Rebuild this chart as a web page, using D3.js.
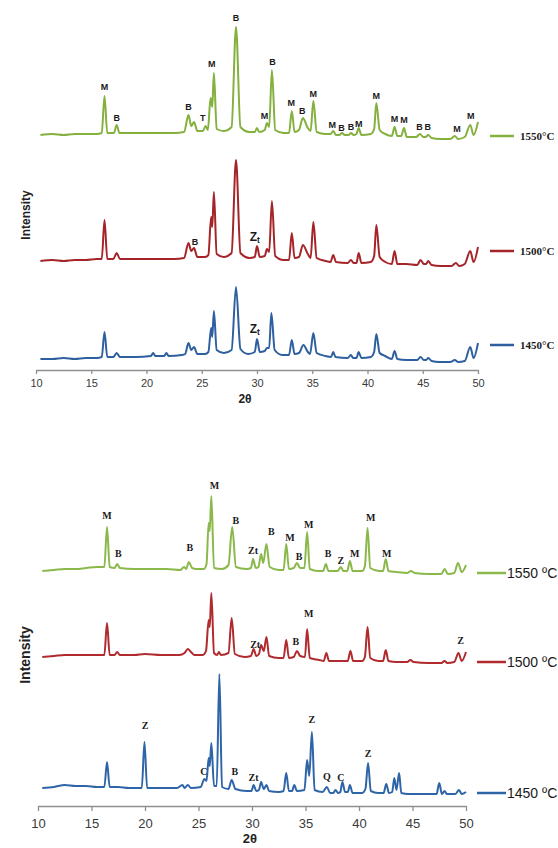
<!DOCTYPE html>
<html>
<head>
<meta charset="utf-8">
<script src="https://cdn.jsdelivr.net/npm/d3@7"></script>
<style>
  body { margin: 0; background: #fff; }
  svg { display: block; }
</style>
</head>
<body>
<div id="chart"></div>
<script>
// XRD patterns, 2θ vs intensity (a.u.), two stacked panels

const xTicks = [10, 15, 20, 25, 30, 35, 40, 45, 50]
const tempsTop = ["1550°C", "1500°C", "1450°C"]
const tempsBot = ["1550 ºC", "1500 ºC", "1450 ºC"]

// top panel traces: [2θ, intensity]
const topGreen = [
  [10.4,12],[11.5,13],[12.5,12],[13.5,13],[14.5,13],[15.5,13],[15.95,14],[16.2,51],[16.45,14],[17.05,14],[17.3,22],[17.55,14],
  [19,14],[21,14],[22.5,14],[23.4,15],[23.8,32],[24.05,21],[24.3,25],[24.6,16],[25.1,16],[25.35,21],[25.55,17],[25.8,49],
  [25.95,40],[26.1,74],[26.35,18],[27,16],[27.7,20],[28.1,120],[28.5,20],[29.3,15],[29.8,15],[30,19],[30.2,15],[30.7,17],
  [30.9,24],[31.1,20],[31.35,77],[31.65,17],[32.4,14],[32.9,14],[33.15,36],[33.4,15],[33.8,17],[34.15,29],[34.6,19],[34.85,16],
  [35.1,46],[35.4,15],[36.2,13],[36.65,13],[36.9,16],[37.15,12],[37.45,12],[37.7,14],[37.95,12],[38.3,12],[38.5,14],[38.75,12],
  [39,13],[39.2,19],[39.45,12],[40.3,13],[40.6,18],[40.8,44],[41.1,17],[41.6,13],[42.2,11],[42.45,20],[42.7,11],[43.05,11],
  [43.3,19],[43.55,10],[44.4,10],[44.75,13],[45.05,10],[45.25,10],[45.5,12],[45.8,9],[46.6,8],[47.5,8],[47.9,11],[48.2,8],
  [48.8,10],[49.3,22],[49.6,12],[50,25]
]
const topRed = [
  [10.4,11],[11.5,12],[12.5,11],[13.5,12],[14.5,12],[15.5,13],[15.95,13],[16.2,52],[16.45,13],[17,13],[17.3,19],[17.6,13],
  [19,13],[21,13],[22.5,13],[23.4,14],[23.8,29],[24.05,21],[24.3,24],[24.6,15],[25.3,15],[25.6,17],[25.85,55],[25.95,45],
  [26.1,80],[26.35,18],[27,15],[27.7,19],[28.1,112],[28.5,19],[29.3,14],[29.8,15],[30,26],[30.25,15],[30.7,16],[30.9,23],
  [31.1,20],[31.35,71],[31.65,16],[32.4,12],[32.9,12],[33.15,39],[33.4,14],[33.8,15],[34.15,27],[34.6,18],[34.85,14],[35.1,50],
  [35.4,14],[36.2,11],[36.65,10],[36.9,17],[37.15,10],[38.2,9],[38.5,12],[38.75,9],[39,9],[39.2,19],[39.45,9],[40.3,10],
  [40.6,16],[40.8,47],[41.1,15],[41.6,10],[42.2,8],[42.45,21],[42.7,8],[43.5,8],[44.5,7],[44.8,12],[45.1,8],[45.3,8],
  [45.5,11],[45.8,7],[46.6,6],[47.6,6],[48,9],[48.3,6],[48.8,8],[49.3,21],[49.6,10],[50,25]
]
const topBlue = [
  [10.4,13],[11.5,13],[12.5,14],[13.5,13],[14.5,14],[15.5,14],[15.95,15],[16.2,40],[16.45,15],[17,15],[17.3,19],[17.6,15],
  [19,15],[20.4,16],[20.6,19],[20.8,16],[21.6,16],[21.8,19],[22,16],[23.2,17],[23.5,18],[23.8,29],[24.05,22],[24.3,25],
  [24.6,18],[25.3,18],[25.6,20],[25.85,44],[25.95,35],[26.1,61],[26.35,22],[27,19],[27.7,22],[28.1,85],[28.5,23],[29.2,18],
  [29.8,20],[30,33],[30.25,20],[30.7,21],[30.9,24],[31.1,24],[31.3,59],[31.6,22],[32.3,17],[32.9,17],[33.15,32],[33.4,18],
  [33.8,19],[34.2,27],[34.6,20],[34.8,18],[35.1,39],[35.4,19],[36.2,16],[36.7,15],[36.9,20],[37.1,15],[38.2,14],[38.5,17],
  [38.7,14],[39,14],[39.2,20],[39.45,14],[40.3,15],[40.6,20],[40.8,38],[41.1,19],[41.6,16],[42.2,13],[42.45,21],[42.7,13],
  [43.5,12],[44.5,12],[44.8,15],[45.1,12],[45.3,12],[45.5,14],[45.8,11],[46.5,10],[47.5,10],[47.9,12],[48.2,10],[48.8,11],
  [49.3,25],[49.6,14],[50,29]
]

// bottom panel traces: [2θ, intensity]
const botGreen = [
  [10.4,15],[11.5,16],[12.5,17],[13.5,17],[14.5,18],[15.5,19],[16.2,19],[16.45,59],[16.7,19],[17.15,18],[17.4,22],[17.65,18],
  [19,17],[20.5,17],[22,17],[23.3,16],[23.65,19],[23.85,17],[24.1,24],[24.4,18],[24.8,17],[25.5,17],[25.75,22],[25.95,63],
  [26.05,55],[26.2,90],[26.45,18],[27.2,17],[27.8,21],[28.15,59],[28.5,19],[29.5,17],[29.9,18],[30.1,27],[30.35,18],[30.6,19],
  [30.85,32],[31.05,23],[31.35,42],[31.65,19],[32.5,16],[32.95,16],[33.2,42],[33.45,17],[33.9,18],[34.2,23],[34.5,18],[34.9,18],
  [35.15,54],[35.4,17],[36.2,15],[36.65,15],[36.9,22],[37.15,15],[38,15],[38.3,19],[38.55,15],[38.9,15],[39.15,25],[39.4,15],
  [40.3,15],[40.55,20],[40.8,58],[41.05,18],[41.9,15],[42.25,15],[42.5,27],[42.75,15],[43.5,14],[44.5,13],[44.85,15],[45.2,13],
  [46.5,12],[47.7,12],[48,17],[48.3,12],[48.9,13],[49.25,23],[49.6,14],[50,21]
]
const botRed = [
  [10.4,14],[11.5,15],[12.5,16],[13.5,16],[14.5,16],[15.5,16],[16.2,16],[16.45,48],[16.7,16],[17.15,16],[17.4,19],[17.65,16],
  [19,16],[20,17],[21.5,16],[23.2,16],[23.7,18],[24,22],[24.3,19],[24.6,16],[25.4,16],[25.7,20],[25.95,51],[26.05,44],
  [26.2,78],[26.45,18],[26.75,16],[26.9,19],[27.1,16],[27.8,18],[28.1,53],[28.4,17],[29.3,14],[29.9,15],[30.15,22],[30.4,15],
  [30.65,17],[30.85,26],[31.1,20],[31.35,34],[31.6,15],[32.5,13],[32.95,13],[33.2,31],[33.45,13],[33.9,14],[34.2,20],[34.5,15],
  [34.95,14],[35.15,42],[35.4,13],[36.3,11],[36.7,10],[36.95,18],[37.2,10],[37.8,10],[38.3,10],[38.95,10],[39.2,20],[39.45,10],
  [40.3,10],[40.55,14],[40.8,44],[41.05,13],[41.8,10],[42.25,10],[42.5,21],[42.75,10],[43.5,9],[44.5,9],[44.8,11],[45.1,9],
  [46.5,8],[47.7,8],[48,10],[48.25,8],[48.9,9],[49.3,18],[49.6,10],[50,19]
]
const botBlue = [
  [10.4,18],[11.5,19],[12.5,21],[13.5,20],[14.5,20],[15.5,19],[16.2,19],[16.45,44],[16.7,19],[17.5,19],[18.5,18],[19.7,18],
  [19.95,64],[20.2,18],[21.5,18],[23,18],[23.5,21],[23.7,18],[24,21],[24.3,18],[25.2,19],[25.55,27],[25.75,25],[25.95,48],
  [26.05,40],[26.2,63],[26.45,20],[26.7,20],[26.95,132],[27.2,19],[27.8,17],[28.1,26],[28.45,17],[29.5,15],[29.95,15],[30.15,21],
  [30.4,15],[30.65,16],[30.85,24],[31.1,17],[31.35,21],[31.6,15],[32.5,14],[32.95,15],[33.2,33],[33.45,15],[33.75,15],[33.95,21],
  [34.2,15],[34.9,16],[35.15,46],[35.35,30],[35.6,74],[35.85,16],[36.6,14],[37,19],[37.3,13],[37.6,13],[37.8,16],[38.05,13],
  [38.25,14],[38.45,24],[38.7,14],[38.95,14],[39.15,21],[39.4,13],[40.3,13],[40.6,17],[40.85,43],[41.1,15],[41.8,13],[42.3,13],
  [42.55,22],[42.8,13],[43.1,14],[43.3,28],[43.5,16],[43.75,33],[43.95,13],[44.6,12],[46.5,12],[47.25,12],[47.5,23],[47.75,12],
  [48,15],[48.2,12],[49,12],[49.35,16],[49.6,12],[50,14]
]

// phase labels: [2θ, text, intensity level of text baseline]
const topGreenLabels = [
  [16.2,"M",57],[17.3,"B",26],[23.8,"B",37],[25.1,"T",26],[25.9,"M",80],[28.1,"B",126],[30.67,"M",28],[31.4,"B",82],
  [33.1,"M",41],[34.1,"B",33],[35.1,"M",50],[36.8,"M",19],[37.65,"B",16],[38.5,"B",17],[39.2,"M",20],[40.8,"M",48],
  [42.45,"M",25],[43.3,"M",24],[44.7,"B",17],[45.45,"B",17],[48.1,"M",15],[49.35,"M",28]
]
const topRedLabels = [[24.4,"B",27],[29.8,"Zt",31]]
const topBlueLabels = [[29.8,"Zt",39]]

const botGreenLabels = [
  [16.45,"M",67],[17.5,"B",29],[24.2,"B",35],[26.5,"M",97],[28.5,"B",62],[30.1,"Zt",32],[31.8,"B",51],[33.55,"M",45],
  [34.4,"B",26],[35.3,"M",58],[37.1,"B",29],[38.3,"Z",22],[39.6,"M",29],[41.1,"M",65],[42.6,"M",29]
]
const botRedLabels = [[30.3,"Zt",23],[34.1,"B",26],[35.3,"M",54],[49.5,"Z",27]]
const botBlueLabels = [
  [20.0,"Z",77],[25.5,"C",31],[28.4,"B",31],[30.15,"Zt",25],[35.6,"Z",83],[37.0,"Q",26],[38.3,"C",25],[40.85,"Z",49]
]

const svg = d3.select("#chart")
  .append("svg")
  .attr("width", 558)
  .attr("height", 848)

function drawPanel(p) {
  const x = d3.scaleLinear().domain([10, 50]).range(p.xRange)
  const y = d3.scaleLinear().domain([0, 400]).range([p.y0, p.y0 - 400])
  const g = svg.append("g")

  // x axis
  const ax = g.append("g")
    .attr("transform", `translate(0,${p.axisY})`)
    .call(d3.axisBottom(x).tickValues(xTicks).tickSize(p.tickSize).tickPadding(p.tickPad).tickSizeOuter(0))
  ax.select(".domain").attr("stroke", "#8f8f8f").attr("stroke-width", 1.3)
  ax.selectAll(".tick line").attr("stroke", "#8f8f8f").attr("stroke-width", 1.3)
  ax.selectAll(".tick text")
    .attr("fill", "#3a3a3a")
    .style("font-family", "Liberation Sans, Arial, sans-serif")
    .style("font-size", p.tickFont + "px")

  g.append("text")
    .attr("x", p.xTitle[0]).attr("y", p.xTitle[1])
    .attr("text-anchor", "middle")
    .style("font-family", "Liberation Sans, Arial, sans-serif")
    .style("font-weight", "bold")
    .style("font-size", p.titleFont + "px")
    .attr("fill", "#222")
    .text("2θ")

  g.append("text")
    .attr("transform", `translate(${p.yTitle[0]},${p.yTitle[1]}) rotate(-90)`)
    .attr("text-anchor", "middle")
    .style("font-family", "Liberation Sans, Arial, sans-serif")
    .style("font-weight", "bold")
    .style("font-size", p.yTitleFont + "px")
    .attr("fill", "#222")
    .text("Intensity")

  const line = d3.line()
    .x(d => x(d[0]))
    .curve(d3.curveMonotoneX)

  p.series.forEach(s => {
    g.append("path")
      .datum(s.data)
      .attr("fill", "none")
      .attr("stroke", s.color)
      .attr("stroke-width", 2)
      .attr("stroke-linejoin", "round")
      .attr("d", line.y(d => y(d[1] + s.offset)))

    // phase labels
    g.selectAll(null)
      .data(s.labels)
      .enter()
      .append("text")
      .attr("x", d => x(d[0]))
      .attr("y", d => y(d[2] + s.offset))
      .attr("text-anchor", "middle")
      .attr("fill", "#1a1a1a")
      .style("font-family", p.labelFamily)
      .style("font-weight", "bold")
      .style("font-size", d => (d[1] === "Zt" ? p.ztFont : p.labelFont) + "px")
      .each(function(d) {
        const t = d3.select(this)
        if (d[1] === "Zt" && p.ztSub) {
          t.append("tspan").text("Z")
          t.append("tspan").attr("dy", 2).style("font-size", (p.ztFont * 0.7) + "px").text("t")
        } else {
          t.text(d[1])
        }
      })

    // legend
    g.append("line")
      .attr("x1", p.legX[0]).attr("x2", p.legX[1])
      .attr("y1", s.legY).attr("y2", s.legY)
      .attr("stroke", s.color).attr("stroke-width", 2.5)
    g.append("text")
      .attr("x", p.legX[1] + p.legGap).attr("y", s.legY)
      .attr("dy", "0.35em")
      .attr("fill", "#1a1a1a")
      .style("font-family", p.legFamily)
      .style("font-weight", p.legWeight)
      .style("font-size", p.legFont + "px")
      .text(s.name)
  })
}

drawPanel({
  xRange: [36, 478], y0: 372, axisY: 370,
  tickSize: 4, tickPad: 5, tickFont: 11,
  xTitle: [245, 403], titleFont: 12,
  yTitle: [30, 215], yTitleFont: 12,
  labelFamily: "Liberation Sans, Arial, sans-serif", labelFont: 9, ztFont: 12, ztSub: true,
  legX: [490, 514], legGap: 6,
  legFamily: "Liberation Serif, Times New Roman, serif", legWeight: "bold", legFont: 11,
  series: [
    {name: tempsTop[0], data: topGreen, labels: topGreenLabels, offset: 225, color: "#84b03e", legY: 136},
    {name: tempsTop[1], data: topRed, labels: topRedLabels, offset: 100, color: "#a52429", legY: 251},
    {name: tempsTop[2], data: topBlue, labels: topBlueLabels, offset: 0, color: "#2e5f9e", legY: 345}
  ]
})

drawPanel({
  xRange: [38, 466], y0: 806, axisY: 806,
  tickSize: 5, tickPad: 8, tickFont: 13,
  xTitle: [250, 843], titleFont: 13,
  yTitle: [30, 655], yTitleFont: 14,
  labelFamily: "Liberation Serif, Times New Roman, serif", labelFont: 10, ztFont: 10, ztSub: false,
  legX: [477, 506], legGap: 1,
  legFamily: "Liberation Sans, Arial, sans-serif", legWeight: "normal", legFont: 14,
  series: [
    {name: tempsBot[0], data: botGreen, labels: botGreenLabels, offset: 220, color: "#8ab84a", legY: 573},
    {name: tempsBot[1], data: botRed, labels: botRedLabels, offset: 135, color: "#b02a2e", legY: 662},
    {name: tempsBot[2], data: botBlue, labels: botBlueLabels, offset: 0, color: "#2e64a8", legY: 793}
  ]
})
</script>
</body>
</html>
